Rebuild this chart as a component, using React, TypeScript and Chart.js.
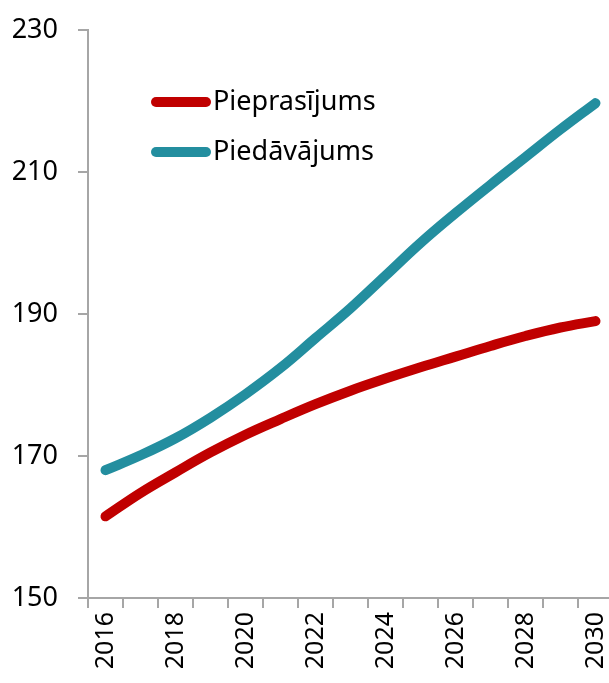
import React, { useEffect, useRef } from "react";
import { Chart, registerables } from "chart.js";

Chart.register(...registerables);

const years = ["2016","2017","2018","2019","2020","2021","2022","2023","2024","2025","2026","2027","2028","2029","2030"];
const demand = [161.5, 164.8, 167.7, 170.5, 173.0, 175.2, 177.3, 179.2, 180.9, 182.5, 184.0, 185.5, 186.9, 188.1, 189.0];
const supply = [168.0, 170.1, 172.5, 175.4, 178.7, 182.4, 186.6, 190.8, 195.4, 200.0, 204.2, 208.2, 212.1, 216.0, 219.7];
const seriesNames = ["Pieprasījums", "Piedāvājums"];
const seriesColors = ["#C00000", "#238E9F"];
const yTicks = [150, 170, 190, 210, 230];

const FONT = "'Noto Sans', 'Open Sans', sans-serif";
const AXIS = "#A6A6A6";

const legendPlugin = {
  id: "innerLegend",
  afterDatasetsDraw(chart: any) {
    const { ctx, chartArea } = chart;
    ctx.save();
    chart.data.datasets.forEach((ds: any, i: number) => {
      const y = chartArea.top + 72 + i * 50;
      const x0 = chartArea.left + 68;
      const x1 = chartArea.left + 118;
      ctx.strokeStyle = ds.borderColor;
      ctx.lineWidth = 10;
      ctx.lineCap = "round";
      ctx.beginPath();
      ctx.moveTo(x0, y);
      ctx.lineTo(x1, y);
      ctx.stroke();
      ctx.fillStyle = "#000";
      ctx.font = `27px ${FONT}`;
      ctx.textBaseline = "middle";
      ctx.textAlign = "left";
      ctx.fillText(ds.label, x1 + 7, y);
    });
    ctx.restore();
  },
};

const zeroPad = (s: any) => {
  s.paddingTop = 0;
  s.paddingBottom = 0;
  s.paddingLeft = 0;
  s.paddingRight = 0;
};

export default function App() {
  const ref = useRef<HTMLCanvasElement>(null);
  useEffect(() => {
    document.body.style.margin = "0";
    document.body.style.overflow = "hidden";
    const chart = new Chart(ref.current!, {
      type: "line",
      data: {
        labels: years,
        datasets: [
          { label: seriesNames[0], data: demand, borderColor: seriesColors[0], backgroundColor: seriesColors[0] },
          { label: seriesNames[1], data: supply, borderColor: seriesColors[1], backgroundColor: seriesColors[1] },
        ].map((d) => ({
          ...d,
          borderWidth: 10,
          borderCapStyle: "round" as const,
          borderJoinStyle: "round" as const,
          pointRadius: 0,
          tension: 0.4,
          fill: false,
        })),
      },
      options: {
        responsive: false,
        animation: false,
        devicePixelRatio: 1,
        layout: { padding: { top: 30, right: 0, left: 0, bottom: 0 } },
        plugins: { legend: { display: false }, tooltip: { enabled: false } },
        scales: {
          x: {
            type: "category",
            offset: true,
            grid: {
              offset: true,
              drawOnChartArea: false,
              drawTicks: true,
              tickLength: 10,
              color: AXIS,
              lineWidth: 2,
            },
            border: { color: AXIS, width: 2 },
            ticks: {
              autoSkip: false,
              maxRotation: 90,
              minRotation: 90,
              padding: 4,
              color: "#000",
              font: { family: FONT, size: 25 },
              callback: (v: any, i: number) => (i % 2 === 0 ? years[i] : ""),
            },
            afterFit: (s: any) => { s.height = 85; zeroPad(s); },
          },
          y: {
            min: yTicks[0],
            max: yTicks[yTicks.length - 1],
            afterBuildTicks: (s: any) => { s.ticks = yTicks.map((v) => ({ value: v })); },
            grid: {
              drawOnChartArea: false,
              drawTicks: true,
              tickLength: 10,
              color: AXIS,
              lineWidth: 2,
            },
            border: { color: AXIS, width: 2 },
            ticks: {
              padding: 20,
              color: "#000",
              font: { family: FONT, size: 27 },
            },
            afterFit: (s: any) => { s.width = 88; zeroPad(s); },
          },
        },
      },
      plugins: [legendPlugin],
    });
    return () => chart.destroy();
  }, []);
  return (
    <div style={{ position: "fixed", left: 0, top: 0, width: 609, height: 683, overflow: "hidden", background: "#fff" }}>
      <canvas ref={ref} width={613} height={683} style={{ display: "block" }} />
    </div>
  );
}
